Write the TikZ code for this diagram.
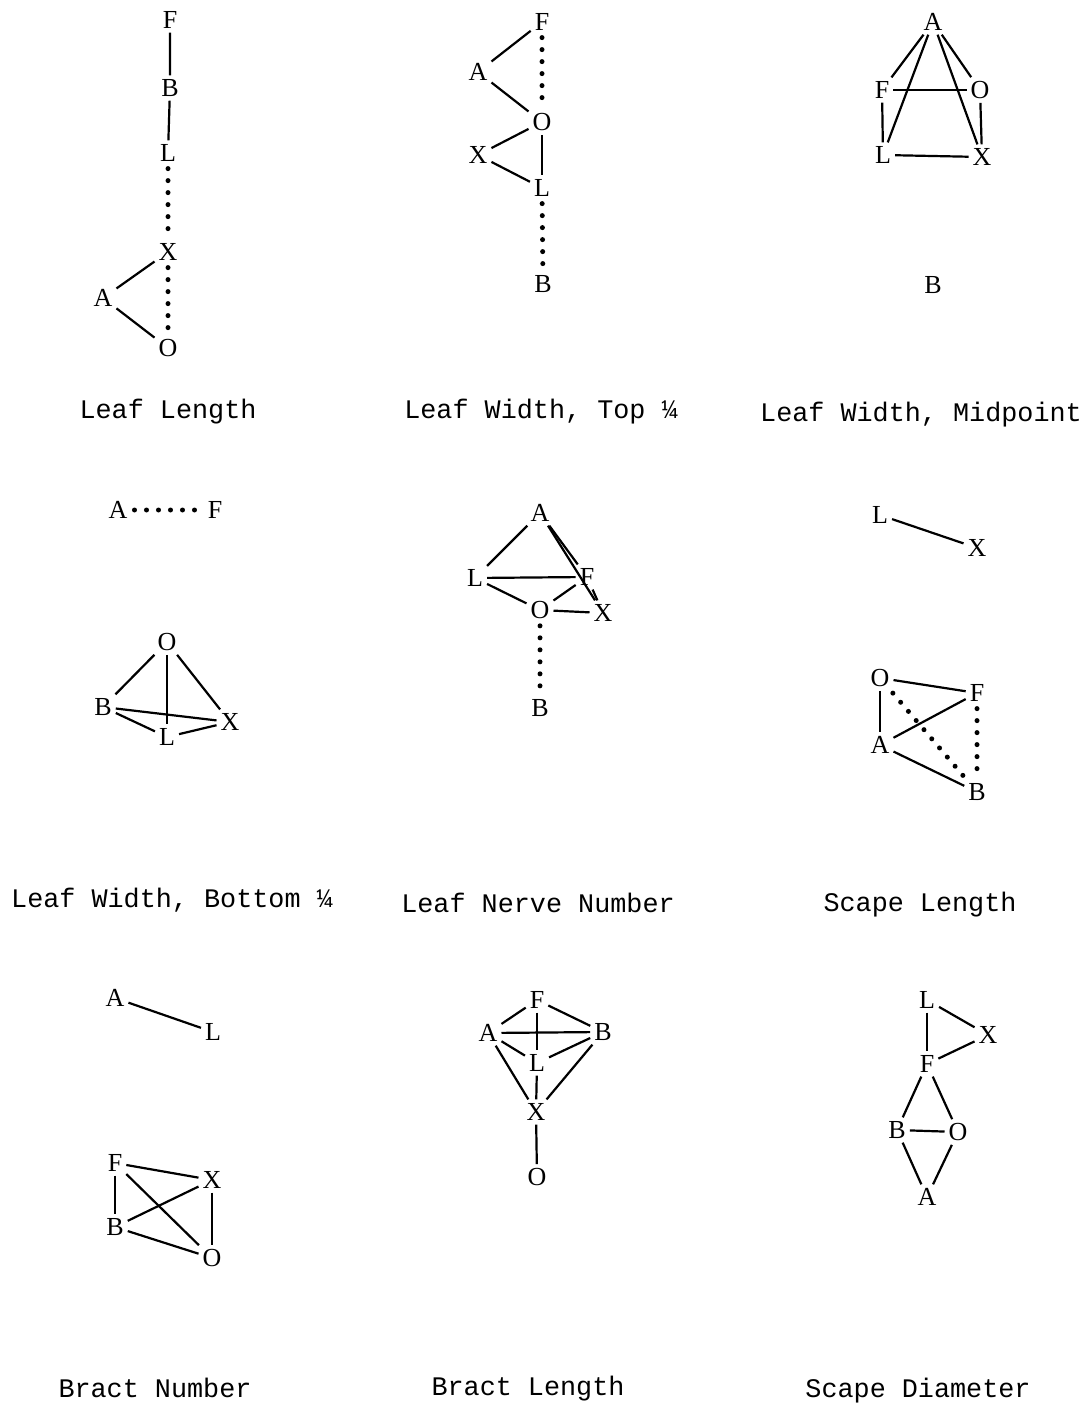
\documentclass[tikz,border=0pt]{standalone}
\usepackage{fontspec}
\setmainfont{Liberation Serif}
\setmonofont{Liberation Mono}
\usepackage{tikz}

\tikzset{
  letter/.style={inner sep=1.5pt,font=\fontsize{13}{15}\selectfont},
  dotline/.style={line width=2.5pt,line cap=round,dash pattern=on 0pt off 6pt,shorten <=1.5pt,shorten >=1.5pt},
  caption/.style={font=\ttfamily\fontsize{13.4}{16}\selectfont}
}

\begin{document}
\begin{tikzpicture}[x=0.5pt,y=-0.5pt,line width=1.1pt,every node/.append style={letter}]
\useasboundingbox (0,0) rectangle (1089,1406);

% Leaf Length
\node (llF) at (170,20) {F};
\node (llB) at (170,88) {B};
\node (llL) at (168,153) {L};
\node (llX) at (168,252) {X};
\node (llA) at (103,298) {A};
\node (llO) at (168,348) {O};
\draw (llF) -- (llB) -- (llL);
\draw (llA) -- (llX) (llA) -- (llO);
\draw[dotline] (llL) -- (llX);
\draw[dotline] (llX) -- (llO);
\node[caption] (capll) at (168,412) {Leaf Length};

% Leaf Width, Top
\node (ltF) at (542,22) {F};
\node (ltA) at (478,72) {A};
\node (ltO) at (542,122) {O};
\node (ltX) at (478,155) {X};
\node (ltL) at (542,188) {L};
\node (ltB) at (543,284) {B};
\foreach \a/\b in {F/A,A/O,O/X,O/L,X/L} {\draw (lt\a) -- (lt\b);}
\draw[dotline] (ltF) -- (ltO);
\draw[dotline] (ltL) -- (ltB);
\node[caption] (caplt) at (541,412) {Leaf Width, Top ¼};

% Leaf Width, Midpoint
\node (lmA) at (933,22) {A};
\node (lmF) at (882,90) {F};
\node (lmO) at (980,90) {O};
\node (lmL) at (883,155) {L};
\node (lmX) at (982,157) {X};
\node (lmB) at (933,285) {B};
\foreach \a/\b in {A/F,A/L,A/X,A/O,F/O,F/L,O/X,L/X} {\draw (lm\a) -- (lm\b);}
\node[caption] (caplm) at (921,415) {Leaf Width, Midpoint};

% Leaf Width, Bottom
\node (lbA) at (118,510) {A};
\node (lbF) at (215,510) {F};
\node (lbO) at (167,642) {O};
\node (lbB) at (103,707) {B};
\node (lbX) at (230,722) {X};
\node (lbL) at (167,737) {L};
\draw[dotline] (lbA) -- (lbF);
\foreach \a/\b in {O/B,O/L,O/X,B/X,B/L,L/X} {\draw (lb\a) -- (lb\b);}
\node[caption] (caplb) at (172,900) {Leaf Width, Bottom ¼};

% Leaf Nerve Number
\node (lnA) at (540,513) {A};
\node (lnL) at (475,578) {L};
\node (lnF) at (587,577) {F};
\node (lnO) at (540,610) {O};
\node (lnX) at (603,613) {X};
\node (lnB) at (540,708) {B};
\foreach \a/\b in {A/L,A/F,A/X,L/F,L/O,O/F,O/X,F/X} {\draw (ln\a) -- (ln\b);}
\draw[dotline] (lnO) -- (lnB);
\node[caption] (capln) at (538,903) {Leaf Nerve Number};

% Scape Length
\node (slL) at (880,515) {L};
\node (slX) at (977,548) {X};
\node (slO) at (880,678) {O};
\node (slF) at (977,693) {F};
\node (slA) at (880,745) {A};
\node (slB) at (977,792) {B};
\foreach \a/\b in {L/X,O/F,O/A,A/F,A/B} {\draw (sl\a) -- (sl\b);}
\draw[dotline] (slO) -- (slB);
\draw[dotline] (slF) -- (slB);
\node[caption] (capsl) at (920,905) {Scape Length};

% Bract Number
\node (bnA) at (115,998) {A};
\node (bnL) at (213,1032) {L};
\node (bnF) at (115,1163) {F};
\node (bnX) at (212,1180) {X};
\node (bnB) at (115,1227) {B};
\node (bnO) at (212,1258) {O};
\foreach \a/\b in {A/L,F/X,F/B,F/O,B/X,B/O,X/O} {\draw (bn\a) -- (bn\b);}
\node[caption] (capbn) at (155,1388) {Bract Number};

% Bract Length
\node (blF) at (537,1000) {F};
\node (blA) at (488,1033) {A};
\node (blB) at (603,1032) {B};
\node (blL) at (537,1063) {L};
\node (blX) at (536,1112) {X};
\node (blO) at (537,1177) {O};
\foreach \a/\b in {A/F,F/B,A/B,F/L,A/L,L/B,A/X,L/X,B/X,X/O} {\draw (bl\a) -- (bl\b);}
\node[caption] (capbl) at (528,1389) {Bract Length};

% Scape Diameter
\node (sdL) at (927,1000) {L};
\node (sdX) at (988,1035) {X};
\node (sdF) at (927,1064) {F};
\node (sdB) at (897,1130) {B};
\node (sdO) at (958,1132) {O};
\node (sdA) at (927,1197) {A};
\foreach \a/\b in {L/X,L/F,F/X,F/B,F/O,B/O,B/A,O/A} {\draw (sd\a) -- (sd\b);}
\node[caption] (capsd) at (918,1391) {Scape Diameter};

\end{tikzpicture}
\end{document}
